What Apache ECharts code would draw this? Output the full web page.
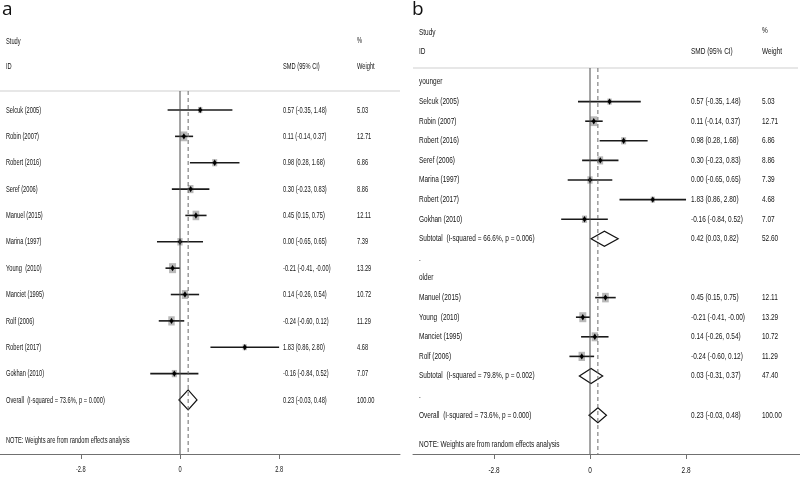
<!DOCTYPE html>
<html>
<head>
<meta charset="utf-8">
<script src="https://cdn.jsdelivr.net/npm/echarts@6/dist/echarts.min.js"></script>
<style>
html,body{margin:0;padding:0;background:#fff}
#main{width:800px;height:477px}
</style>
</head>
<body>
<div id="main"></div>
<script>
// panel a: all studies pooled
var studiesA = ['Selcuk (2005)','Robin (2007)','Robert (2016)','Seref (2006)','Manuel (2015)','Marina (1997)','Young  (2010)','Manciet (1995)','Rolf (2006)','Robert (2017)','Gokhan (2010)']
var smdA = [0.57,0.11,0.98,0.30,0.45,0.00,-0.21,0.14,-0.24,1.83,-0.16]
var loA = [-0.35,-0.14,0.28,-0.23,0.15,-0.65,-0.41,-0.26,-0.60,0.86,-0.84]
var hiA = [1.48,0.37,1.68,0.83,0.75,0.65,-0.004,0.54,0.12,2.80,0.52]
var weightA = [5.03,12.71,6.86,8.86,12.11,7.39,13.29,10.72,11.29,4.68,7.07]

// panel b: split by age group
var youngStudies = ['Selcuk (2005)','Robin (2007)','Robert (2016)','Seref (2006)','Marina (1997)','Robert (2017)','Gokhan (2010)']
var youngSmd = [0.57,0.11,0.98,0.30,0.00,1.83,-0.16]
var youngLo = [-0.35,-0.14,0.28,-0.23,-0.65,0.86,-0.84]
var youngHi = [1.48,0.37,1.68,0.83,0.65,2.80,0.52]
var youngWeight = [5.03,12.71,6.86,8.86,7.39,4.68,7.07]
var youngSub = [0.42,0.03,0.82,52.60]   // smd, lo, hi, weight
var youngSubLabel = 'Subtotal  (I-squared = 66.6%, p = 0.006)'

var oldStudies = ['Manuel (2015)','Young  (2010)','Manciet (1995)','Rolf (2006)']
var oldSmd = [0.45,-0.21,0.14,-0.24]
var oldLo = [0.15,-0.41,-0.26,-0.60]
var oldHi = [0.75,-0.004,0.54,0.12]
var oldWeight = [12.11,13.29,10.72,11.29]
var oldSub = [0.03,-0.31,0.37,47.40]
var oldSubLabel = 'Subtotal  (I-squared = 79.8%, p = 0.002)'

var overall = [0.23,-0.03,0.48,100.00]
var overallLabel = 'Overall  (I-squared = 73.6%, p = 0.000)'
var tickVals = [-2.8, 0, 2.8]
var noteText = 'NOTE: Weights are from random effects analysis'

var FONT = "'Liberation Sans',Arial,sans-serif"
var TXT = '#141414'

function ci(s, l, h) {
    return s.toFixed(2) + ' (' + l.toFixed(2) + ', ' + h.toFixed(2) + ')'
}

// rows of panel a
var rowsA = []
for (var i = 0; i < studiesA.length; i++) {
    rowsA.push({kind:'study', label:studiesA[i], s:smdA[i], l:loA[i], h:hiA[i], w:weightA[i]})
}
rowsA.push({kind:'diamond', label:overallLabel, s:overall[0], l:overall[1], h:overall[2], w:overall[3]})

// rows of panel b
var rowsB = [{kind:'text', label:'younger'}]
for (var i = 0; i < youngStudies.length; i++) {
    rowsB.push({kind:'study', label:youngStudies[i], s:youngSmd[i], l:youngLo[i], h:youngHi[i], w:youngWeight[i]})
}
rowsB.push({kind:'diamond', label:youngSubLabel, s:youngSub[0], l:youngSub[1], h:youngSub[2], w:youngSub[3]})
rowsB.push({kind:'text', label:'.'})
rowsB.push({kind:'text', label:'older'})
for (var i = 0; i < oldStudies.length; i++) {
    rowsB.push({kind:'study', label:oldStudies[i], s:oldSmd[i], l:oldLo[i], h:oldHi[i], w:oldWeight[i]})
}
rowsB.push({kind:'diamond', label:oldSubLabel, s:oldSub[0], l:oldSub[1], h:oldSub[2], w:oldSub[3]})
rowsB.push({kind:'text', label:'.'})
rowsB.push({kind:'diamond', label:overallLabel, s:overall[0], l:overall[1], h:overall[2], w:overall[3]})

// layout of each panel (pixels); text is squeezed horizontally like the Stata export
var panels = [
    {rows:rowsA, left:0, width:400, zeroX:180, ppu:35.4, row0:110, step:26.36, sepY:91, sepRight:400,
        fs:9.5, sx:0.6, nameX:6, smdX:283, wX:357, studyY:41, idY:66, pctY:40, noteY:440, diaH:10, tickY:15},
    {rows:rowsB, left:413, width:387, zeroX:590, ppu:34.3, row0:82, step:19.6, sepY:68, sepRight:798,
        fs:9, sx:0.72, nameX:419, smdX:691, wX:762, studyY:33, idY:52, pctY:31, noteY:445, diaH:7.5, tickY:17}
]
var gridTop = 20, axisY = 454

var grids = [], xAxes = [], yAxes = [], series = []

function studyItem(params, api) {
    var r = api.value(3)
    var a = api.coord([api.value(0), r])
    var b = api.coord([api.value(1), r])
    var c = api.coord([api.value(2), r])
    var k = Math.sqrt(api.value(4) / 13.29)
    var sw = 7 * k, sh = 10 * k
    return {type:'group', children:[
        {type:'rect', shape:{x:c[0]-sw/2, y:c[1]-sh/2, width:sw, height:sh}, style:{fill:'#b9b9b9'}},
        {type:'line', shape:{x1:a[0], y1:a[1], x2:b[0], y2:b[1]}, style:{stroke:'#1a1a1a', lineWidth:1.6}},
        {type:'polygon', shape:{points:[[c[0]-2,c[1]],[c[0],c[1]-3.2],[c[0]+2,c[1]],[c[0],c[1]+3.2]]}, style:{fill:'#000'}}
    ]}
}

panels.forEach(function (p, gi) {
    var yMin = (gridTop - p.row0) / p.step
    var yMax = (axisY - p.row0) / p.step
    var xMin = (p.left - p.zeroX) / p.ppu
    var xMax = (p.left + p.width - p.zeroX) / p.ppu
    var rowOf = function (py) { return (py - p.row0) / p.step }
    var xOf = function (px) { return (px - p.zeroX) / p.ppu }
    var sepR = rowOf(p.sepY)

    grids.push({left:p.left, top:gridTop, width:p.width, height:axisY - gridTop})
    xAxes.push({
        gridIndex:gi, type:'value', min:xMin, max:xMax, position:'bottom',
        axisLine:{onZero:false, lineStyle:{color:'#707070', width:1}},
        axisTick:{customValues:tickVals, length:5, lineStyle:{color:'#707070'}},
        axisLabel:{show:false},
        splitLine:{show:false}
    })
    yAxes.push({gridIndex:gi, type:'value', inverse:true, min:yMin, max:yMax, show:false})

    var studies = [], diamonds = [], texts = []
    p.rows.forEach(function (row, r) {
        texts.push([xOf(p.nameX), r, row.label])
        if (row.kind === 'study') studies.push([row.l, row.h, row.s, r, row.w])
        if (row.kind === 'diamond') diamonds.push([row.l, row.h, row.s, r])
        if (row.kind !== 'text') {
            texts.push([xOf(p.smdX), r, ci(row.s, row.l, row.h)])
            texts.push([xOf(p.wX), r, row.w.toFixed(2)])
        }
    })
    // headers and footnote
    texts.push([xOf(p.nameX), rowOf(p.studyY), 'Study'])
    texts.push([xOf(p.nameX), rowOf(p.idY), 'ID'])
    texts.push([xOf(p.nameX), rowOf(p.noteY), noteText])
    texts.push([xOf(p.smdX), rowOf(p.idY), 'SMD (95% CI)'])
    texts.push([xOf(p.wX), rowOf(p.idY), 'Weight'])
    texts.push([xOf(p.wX), rowOf(p.pctY), '%'])

    // separator under the header
    series.push({type:'line', xAxisIndex:gi, yAxisIndex:gi, data:[[xMin, sepR],[xOf(p.sepRight), sepR]],
        symbol:'none', silent:true, lineStyle:{color:'#cfcfcf', width:1}})
    // null line
    series.push({type:'line', xAxisIndex:gi, yAxisIndex:gi, data:[[0, sepR],[0, yMax]],
        symbol:'none', silent:true, lineStyle:{color:'#4a4a4a', width:1}})
    // overall effect line
    series.push({type:'line', xAxisIndex:gi, yAxisIndex:gi, data:[[overall[0], sepR],[overall[0], yMax]],
        symbol:'none', silent:true, lineStyle:{color:'#6a6a6a', width:1, type:[4,3]}})

    series.push({type:'custom', xAxisIndex:gi, yAxisIndex:gi, data:studies, silent:true,
        encode:{x:[0,1,2], y:3}, renderItem:studyItem})
    series.push({type:'custom', xAxisIndex:gi, yAxisIndex:gi, data:diamonds, silent:true,
        encode:{x:[0,1,2], y:3},
        renderItem:function (params, api) {
            var r = api.value(3)
            var a = api.coord([api.value(0), r])
            var b = api.coord([api.value(1), r])
            var c = api.coord([api.value(2), r])
            return {type:'polygon', shape:{points:[a,[c[0], c[1]-p.diaH], b, [c[0], c[1]+p.diaH]]},
                style:{fill:'#fff', stroke:'#111', lineWidth:1.2}}
        }})

    // text columns, drawn as narrow text at their row
    series.push({type:'custom', xAxisIndex:gi, yAxisIndex:gi, data:texts, silent:true,
        encode:{x:0, y:1},
        renderItem:function (params, api) {
            var pt = api.coord([api.value(0), api.value(1)])
            return {type:'text', x:pt[0], y:pt[1], scaleX:p.sx,
                style:{text:texts[params.dataIndex][2], fill:TXT, fontSize:p.fs, fontFamily:FONT,
                    align:'left', verticalAlign:'middle'}}
        }})

    // tick labels under the axis
    series.push({type:'custom', xAxisIndex:gi, yAxisIndex:gi, data:tickVals.map(function (v) { return [v, yMax] }),
        silent:true, encode:{x:0, y:1},
        renderItem:function (params, api) {
            var pt = api.coord([api.value(0), api.value(1)])
            var v = tickVals[params.dataIndex]
            return {type:'text', x:pt[0], y:pt[1] + p.tickY, scaleX:p.sx,
                style:{text:v === 0 ? '0' : String(v), fill:TXT, fontSize:p.fs, fontFamily:FONT,
                    align:'center', verticalAlign:'middle'}}
        }})
})

var chart = echarts.init(document.getElementById('main'))
chart.setOption({
    animation:false,
    backgroundColor:'#fff',
    title:[
        {text:'a', left:2, top:0, padding:0, textStyle:{fontSize:19, fontWeight:'normal', color:'#111', fontFamily:"'Open Sans',sans-serif"}},
        {text:'b', left:412, top:0, padding:0, textStyle:{fontSize:19, fontWeight:'normal', color:'#111', fontFamily:"'Open Sans',sans-serif"}}
    ],
    grid:grids,
    xAxis:xAxes,
    yAxis:yAxes,
    series:series
})
window.addEventListener('resize', function () { chart.resize() })
</script>
</body>
</html>
